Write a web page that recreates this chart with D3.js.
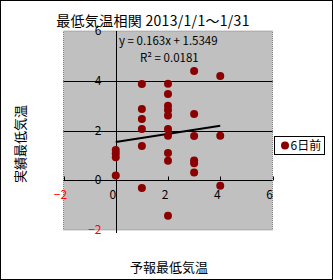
<!DOCTYPE html>
<html>
<head>
<meta charset="utf-8">
<script src="https://cdn.jsdelivr.net/npm/d3@7"></script>
<style>
  html, body { margin: 0; padding: 0; background: #fff; }
  svg { display: block; font-family: "Noto Sans CJK JP", "DejaVu Sans", sans-serif; }
</style>
</head>
<body>
<div id="chart"></div>
<script>
// 予報 (x) と 実績 (y), 6日前
const forecast = [0, 0, 0, 0,
  1, 1, 1, 1, 1, 1,
  2, 2, 2, 2, 2, 2, 2, 2, 2, 2,
  3, 3, 3, 3, 3, 3,
  4, 4, 4];
const observed = [1.22, 1.08, 0.92, 0.19,
  3.87, 2.86, 2.46, 2.06, 1.38, -0.31,
  3.88, 3.47, 3.0, 2.82, 2.6, 2.06, 1.79, 1.1, 0.78, -1.43,
  4.39, 2.66, 1.78, 0.79, 0.68, 0.31,
  4.19, 1.79, -0.22];
const trend = { slope: 0.163, intercept: 1.5349, r2: 0.0181 };
const trendRange = [0, 4];
const xTicks = [-2, 0, 2, 4, 6];
const yTicks = [-2, 0, 2, 4, 6];
const seriesName = '6日前';
const titleText = '最低気温相関 2013/1/1～1/31';

const W = 333, H = 280;
const plot = { left: 63.5, right: 272.5, top: 31, bottom: 230 };

const svg = d3.select('#chart').append('svg')
  .attr('width', W).attr('height', H);

svg.append('rect')
  .attr('x', 0.5).attr('y', 0.5).attr('width', W - 1).attr('height', H - 1)
  .attr('fill', '#fff').attr('stroke', '#000');

const x = d3.scaleLinear().domain([-2, 6]).range([plot.left, plot.right]);
const y = d3.scaleLinear().domain([-2, 6]).range([plot.bottom, plot.top]);

// plot area
svg.append('rect')
  .attr('x', plot.left).attr('y', plot.top)
  .attr('width', plot.right - plot.left).attr('height', plot.bottom - plot.top)
  .attr('fill', '#c0c0c0').attr('stroke', '#808080').attr('stroke-width', 1)
  .attr('stroke-dasharray', '1,1');

// gridlines (major y)
svg.append('g')
  .selectAll('line')
  .data(yTicks.filter(d => d > -2 && d < 6))
  .join('line')
  .attr('x1', plot.left).attr('x2', plot.right)
  .attr('y1', d => Math.round(y(d)) + 0.5).attr('y2', d => Math.round(y(d)) + 0.5)
  .attr('stroke', '#000').attr('stroke-width', 1);

// y axis at x = 0
const x0 = Math.round(x(0)) + 0.5;
svg.append('line')
  .attr('x1', x0).attr('x2', x0)
  .attr('y1', plot.top).attr('y2', plot.bottom + 3)
  .attr('stroke', '#000');

// x ticks on y = 0
const y0 = Math.round(y(0)) + 0.5;
svg.append('g')
  .selectAll('line')
  .data(xTicks.filter(d => d !== 0))
  .join('line')
  .attr('x1', d => Math.round(x(d)) + 0.5).attr('x2', d => Math.round(x(d)) + 0.5)
  .attr('y1', y0 - 4).attr('y2', y0)
  .attr('stroke', '#000');

// x tick labels
svg.append('g')
  .selectAll('text')
  .data(xTicks)
  .join('text')
  .attr('x', d => x(d) - 3)
  .attr('y', y0 + 18)
  .attr('text-anchor', 'middle')
  .attr('font-size', 12)
  .attr('fill', d => d < 0 ? '#ff0000' : '#000')
  .text(d => d < 0 ? '−' + Math.abs(d) : d);

// y tick labels
svg.append('g')
  .selectAll('text')
  .data(yTicks)
  .join('text')
  .attr('x', x0 - 15)
  .attr('y', d => y(d) + 4)
  .attr('text-anchor', 'end')
  .attr('font-size', 12)
  .attr('fill', d => d < 0 ? '#ff0000' : '#000')
  .text(d => d < 0 ? '−' + Math.abs(d) : d);

// trendline
svg.append('line')
  .attr('x1', x(trendRange[0])).attr('y1', y(trend.intercept + trend.slope * trendRange[0]))
  .attr('x2', x(trendRange[1])).attr('y2', y(trend.intercept + trend.slope * trendRange[1]))
  .attr('stroke', '#000').attr('stroke-width', 2);

// points
svg.append('g')
  .selectAll('circle')
  .data(forecast.map((f, i) => [f, observed[i]]))
  .join('circle')
  .attr('cx', d => x(d[0]))
  .attr('cy', d => y(d[1]))
  .attr('r', 4)
  .attr('fill', '#8b0000');

// equation
svg.append('text')
  .attr('x', 119).attr('y', 45)
  .attr('font-size', 11.5)
  .text(`y = ${trend.slope}x + ${trend.intercept}`);
svg.append('text')
  .attr('x', 140).attr('y', 62)
  .attr('font-size', 11.5)
  .text(`R² = ${trend.r2}`);

// title
svg.append('text')
  .attr('x', 153).attr('y', 26)
  .attr('text-anchor', 'middle')
  .attr('font-size', 14)
  .attr('letter-spacing', 0.3)
  .text(titleText);

// axis titles
svg.append('text')
  .attr('x', 169).attr('y', 272)
  .attr('text-anchor', 'middle')
  .attr('font-size', 13)
  .text('予報最低気温');
svg.append('text')
  .attr('transform', 'translate(25,144) rotate(-90)')
  .attr('text-anchor', 'middle')
  .attr('font-size', 13)
  .text('実績最低気温');

// legend
const lg = svg.append('g').attr('transform', 'translate(274.5,136.5)');
lg.append('rect')
  .attr('width', 50).attr('height', 18)
  .attr('fill', '#fff').attr('stroke', '#000');
lg.append('circle').attr('cx', 10.5).attr('cy', 9).attr('r', 4).attr('fill', '#8b0000');
lg.append('text').attr('x', 16).attr('y', 13.5).attr('font-size', 12).text(seriesName);
</script>
</body>
</html>
